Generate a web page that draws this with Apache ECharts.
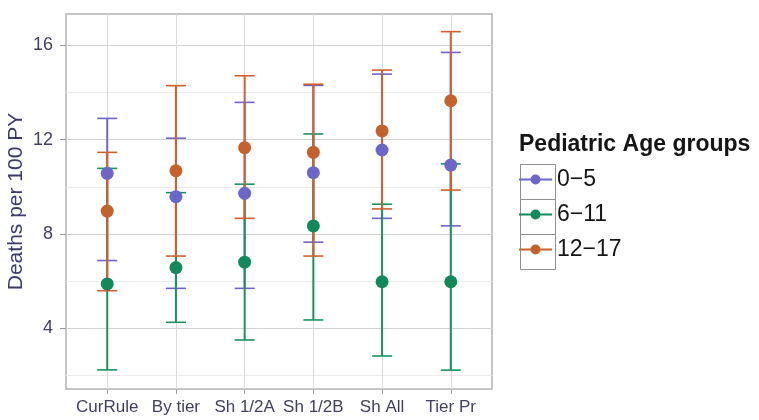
<!DOCTYPE html>
<html>
<head>
<meta charset="utf-8">
<script src="https://cdn.jsdelivr.net/npm/echarts@6/dist/echarts.min.js"></script>
<style>
  html, body { margin: 0; padding: 0; background: #ffffff; }
  #chart { width: 759px; height: 420px; }
</style>
</head>
<body>
<div id="chart"></div>
<script>
// Death rates per 100 person-years by allocation rule and pediatric age group
const categories = ['CurRule', 'By tier', 'Sh 1/2A', 'Sh 1/2B', 'Sh All', 'Tier Pr'];
const groupNames = ['0\u22125', '6\u221211', '12\u221217'];

const est0to5 = [10.57, 9.58, 9.72, 10.60, 11.56, 10.92];
const low0to5 = [6.87, 5.69, 5.69, 7.65, 8.66, 8.34];
const high0to5 = [12.90, 12.06, 13.58, 14.30, 14.78, 15.70];

const est6to11 = [5.88, 6.57, 6.80, 8.34, 5.97, 5.97];
const low6to11 = [2.23, 4.25, 3.50, 4.35, 2.82, 2.22];
const high6to11 = [10.78, 9.75, 10.11, 12.24, 9.26, 10.97];

const est12to17 = [8.97, 10.68, 11.66, 11.46, 12.37, 13.65];
const low12to17 = [5.59, 7.06, 8.66, 7.06, 9.06, 9.86];
const high12to17 = [11.46, 14.29, 14.71, 14.35, 14.95, 16.58];

const majorTicks = [4, 8, 12, 16];
const minorTicks = [2, 6, 10, 14];

const pointColors = ['#6d66c9', '#12895a', '#c5622c'];
const barColors = ['#6f63cc', '#17935f', '#d25f2c'];

const groups = [
  { est: est0to5, low: low0to5, high: high0to5 },
  { est: est6to11, low: low6to11, high: high6to11 },
  { est: est12to17, low: low12to17, high: high12to17 }
];

const FONT = 'Liberation Sans, Arial, sans-serif';
const axisTextColor = '#41415e';
const catPositions = categories.map((c, i) => i + 1);

function errorBarRenderer(color) {
  return function (params, api) {
    const x = api.value(0);
    const top = api.coord([x, api.value(2)]);
    const bottom = api.coord([x, api.value(1)]);
    const hw = 10;
    return {
      type: 'group',
      children: [
        { type: 'line', shape: { x1: top[0], y1: top[1], x2: bottom[0], y2: bottom[1] },
          style: { stroke: color, lineWidth: 2 } },
        { type: 'line', shape: { x1: top[0] - hw, y1: top[1], x2: top[0] + hw, y2: top[1] },
          style: { stroke: color, lineWidth: 1.6 } },
        { type: 'line', shape: { x1: bottom[0] - hw, y1: bottom[1], x2: bottom[0] + hw, y2: bottom[1] },
          style: { stroke: color, lineWidth: 1.6 } }
      ]
    };
  };
}

const series = [];
groups.forEach((g, gi) => {
  series.push({
    name: groupNames[gi],
    type: 'scatter',
    z: 4,
    symbol: 'circle',
    symbolSize: 13,
    itemStyle: { color: pointColors[gi], opacity: 1 },
    data: g.est.map((v, i) => [catPositions[i], v])
  });
});
groups.forEach((g, gi) => {
  series.push({
    name: groupNames[gi],
    type: 'custom',
    z: 2,
    renderItem: errorBarRenderer(barColors[gi]),
    itemStyle: { color: barColors[gi] },
    encode: { x: 0, y: [1, 2] },
    data: g.low.map((v, i) => [catPositions[i], v, g.high[i]])
  });
});

// legend key: short line with a dot on it
const keyIcon = 'path://M0,4.5 L33,4.5 L33,6.5 L0,6.5 Z M11.5,5.5 A5,5 0 1 1 21.5,5.5 A5,5 0 1 1 11.5,5.5 Z';

const option = {
  backgroundColor: '#ffffff',
  animation: false,
  textStyle: { fontFamily: FONT },
  grid: {
    left: 66, right: 267, top: 14, bottom: 31,
    outerBoundsMode: 'none',
    containLabel: false,
    show: true, borderColor: '#b3b3b3', borderWidth: 1.5, backgroundColor: '#ffffff'
  },
  title: {
    text: 'Pediatric Age groups',
    left: 514, top: 128,
    textStyle: { fontFamily: FONT, fontSize: 23, fontWeight: 'bold', color: '#151515' }
  },
  legend: {
    orient: 'vertical',
    left: 519, top: 162,
    padding: 0,
    itemWidth: 33, itemHeight: 11, itemGap: 0,
    selectedMode: false,
    data: groupNames.map(n => ({ name: n, icon: keyIcon })),
    textStyle: { fontFamily: FONT, fontSize: 23, color: '#151515', lineHeight: 35 }
  },
  graphic: groupNames.map((n, i) => ({
    type: 'rect',
    left: 518, top: 162 + 35 * i,
    shape: { width: 35, height: 35 },
    style: { fill: 'none', stroke: '#8f8f8f', lineWidth: 1 }
  })),
  xAxis: {
    type: 'value',
    min: 0.4, max: 6.6,
    axisLine: { show: false },
    axisTick: { show: true, customValues: catPositions, length: 5, lineStyle: { color: '#9a9a9a' } },
    axisLabel: {
      customValues: catPositions,
      margin: 10,
      fontFamily: FONT, fontSize: 17, color: axisTextColor,
      formatter: v => categories[Math.round(v) - 1]
    },
    splitLine: { show: true, lineStyle: { color: '#dadada', width: 1 } }
  },
  yAxis: [
    {
      type: 'value',
      min: 1.42, max: 17.33,
      name: 'Deaths per 100 PY',
      nameLocation: 'middle',
      nameGap: 39,
      nameMoveOverlap: false,
      nameTextStyle: { fontFamily: FONT, fontSize: 21, color: '#3b3b6a' },
      axisLine: { show: false },
      axisTick: { show: true, customValues: majorTicks, length: 6, lineStyle: { color: '#9a9a9a' } },
      axisLabel: { customValues: majorTicks, margin: 13, fontFamily: FONT, fontSize: 18, color: axisTextColor },
      splitLine: { show: true, lineStyle: { color: '#d2d2d2', width: 1.2 } }
    },
    {
      type: 'value',
      min: 1.42, max: 17.33,
      axisLine: { show: false },
      axisTick: { show: false, customValues: minorTicks },
      axisLabel: { show: false, customValues: minorTicks },
      splitLine: { show: true, lineStyle: { color: '#ececec', width: 1 } }
    }
  ],
  series: series
};

const chart = echarts.init(document.getElementById('chart'), null, { renderer: 'canvas' });
chart.setOption(option);
</script>
</body>
</html>
